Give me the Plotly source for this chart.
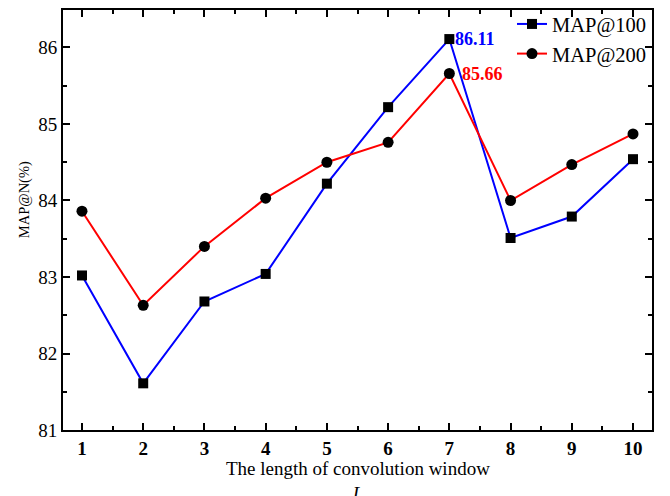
import plotly.graph_objects as go

# Convolution window length vs. retrieval MAP
window = [1, 2, 3, 4, 5, 6, 7, 8, 9, 10]
map100 = [83.02, 81.61, 82.68, 83.04, 84.22, 85.22, 86.11, 83.51, 83.79, 84.54]
map200 = [83.86, 82.63, 83.40, 84.03, 84.50, 84.76, 85.66, 84.00, 84.47, 84.87]

FONT = "Liberation Serif, Times New Roman, serif"

fig = go.Figure()
fig.add_trace(go.Scatter(
    x=window, y=map100, name="MAP@100", mode="lines+markers",
    line=dict(color="#0000FF", width=2),
    marker=dict(symbol="square", size=10, color="black"),
))
fig.add_trace(go.Scatter(
    x=window, y=map200, name="MAP@200", mode="lines+markers",
    line=dict(color="#FF0000", width=2),
    marker=dict(symbol="circle", size=11, color="black"),
))

# Peak value labels
peak_i = 6
fig.add_annotation(x=window[peak_i], y=map100[peak_i], text="<b>%.2f</b>" % map100[peak_i],
                   showarrow=False, xanchor="left", yanchor="middle", xshift=4,
                   font=dict(family=FONT, size=18, color="#0000FF"))
fig.add_annotation(x=window[peak_i], y=map200[peak_i], text="<b>%.2f</b>" % map200[peak_i],
                   showarrow=False, xanchor="left", yanchor="middle", xshift=11,
                   font=dict(family=FONT, size=18, color="#FF0000"))

# Axis titles as free annotations so the plot area keeps its size
fig.add_annotation(xref="paper", yref="paper", x=-0.064, y=0.548, text="MAP@N(%)",
                   textangle=-90, showarrow=False, xanchor="center", yanchor="middle",
                   font=dict(family=FONT, size=14.5, color="black"))
fig.add_annotation(xref="paper", yref="paper", x=0.5, y=-0.062,
                   text="The length of convolution window<br><i>L</i>",
                   showarrow=False, xanchor="center", yanchor="top",
                   font=dict(family=FONT, size=19, color="black"))

axis_common = dict(
    showline=True, linewidth=2, linecolor="black", mirror="allticks",
    ticks="inside", ticklen=7, tickwidth=2, tickcolor="black",
    showgrid=False, zeroline=False, automargin=False,
)

fig.update_xaxes(
    range=[0.69, 10.31], tickmode="array", tickvals=window,
    ticktext=["<b>%d</b>" % v for v in window],
    tickfont=dict(family=FONT, size=19, color="black"),
    minor=dict(dtick=0.5, tick0=0.5, ticks="inside", ticklen=4, tickwidth=2, tickcolor="black"),
    **axis_common,
)
fig.update_yaxes(
    range=[81, 86.49], dtick=1, tick0=81,
    tickfont=dict(family=FONT, size=19, color="black"),
    minor=dict(dtick=0.5, ticks="inside", ticklen=4, tickwidth=2, tickcolor="black"),
    **axis_common,
)

fig.update_layout(
    width=670, height=496,
    margin=dict(l=63, r=18, t=10, b=66, autoexpand=False),
    paper_bgcolor="white", plot_bgcolor="white",
    font=dict(family=FONT, color="black"),
    legend=dict(x=1, y=1.014, xanchor="right", yanchor="top",
                bgcolor="rgba(0,0,0,0)", borderwidth=0,
                font=dict(family=FONT, size=20.5, color="black"),
                tracegroupgap=0, itemwidth=30),
    showlegend=True,
)

fig.write_html("out.html")
